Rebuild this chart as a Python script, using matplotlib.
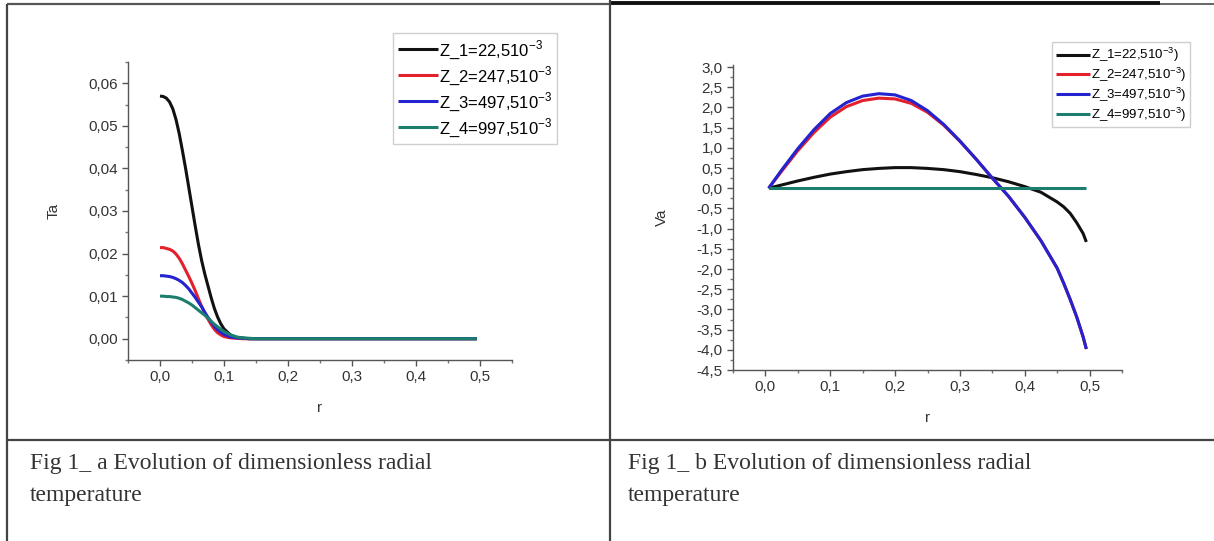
import matplotlib
matplotlib.use("Agg")
import matplotlib.pyplot as plt
from matplotlib.lines import Line2D
from matplotlib.ticker import MultipleLocator, FuncFormatter

# ---- data ----
r_ta = [0.000, 0.005, 0.010, 0.015, 0.020, 0.025, 0.030, 0.035, 0.040, 0.045,
        0.050, 0.055, 0.060, 0.065, 0.070, 0.075, 0.080, 0.085, 0.090, 0.095,
        0.100, 0.110, 0.120, 0.130, 0.140, 0.150, 0.200, 0.300, 0.400, 0.495]
ta_z1 = [0.0570, 0.0569, 0.0565, 0.0556, 0.0540, 0.0515, 0.0482, 0.0442, 0.0400, 0.0355,
         0.0310, 0.0265, 0.0222, 0.0184, 0.0152, 0.0124, 0.0096, 0.0071, 0.0051, 0.0035,
         0.0023, 0.0009, 0.0003, 0.0001, 0.0, 0.0, 0.0, 0.0, 0.0, 0.0]
ta_z2 = [0.0214, 0.0214, 0.0212, 0.0210, 0.0206, 0.0199, 0.0189, 0.0176, 0.0161, 0.0146,
         0.0130, 0.0113, 0.0094, 0.0076, 0.0060, 0.0046, 0.0033, 0.0022, 0.0014, 0.0009,
         0.0005, 0.0002, 0.0001, 0.0, 0.0, 0.0, 0.0, 0.0, 0.0, 0.0]
ta_z3 = [0.0148, 0.0148, 0.0147, 0.0146, 0.0144, 0.0141, 0.0137, 0.0132, 0.0125, 0.0117,
         0.0107, 0.0097, 0.0086, 0.0075, 0.0062, 0.0050, 0.0039, 0.0029, 0.0021, 0.0015,
         0.0010, 0.0004, 0.0002, 0.0001, 0.0, 0.0, 0.0, 0.0, 0.0, 0.0]
ta_z4 = [0.0100, 0.0100, 0.0099, 0.0099, 0.0098, 0.0097, 0.0095, 0.0092, 0.0088, 0.0084,
         0.0079, 0.0073, 0.0067, 0.0061, 0.0055, 0.0048, 0.0041, 0.0034, 0.0028, 0.0022,
         0.0017, 0.0009, 0.0004, 0.0002, 0.0001, 0.0, 0.0, 0.0, 0.0, 0.0]

r_va = [0.005, 0.025, 0.050, 0.075, 0.100, 0.125, 0.150, 0.175, 0.200, 0.225,
        0.250, 0.275, 0.300, 0.325, 0.350, 0.375, 0.400, 0.425, 0.450, 0.460,
        0.470, 0.480, 0.490, 0.495]
va_z1 = [0.00, 0.08, 0.18, 0.27, 0.35, 0.41, 0.46, 0.49, 0.51, 0.51,
         0.49, 0.46, 0.41, 0.34, 0.26, 0.16, 0.04, -0.10, -0.34, -0.46,
         -0.62, -0.85, -1.12, -1.33]
va_z2 = [0.00, 0.42, 0.93, 1.38, 1.76, 2.02, 2.17, 2.23, 2.21, 2.10,
         1.88, 1.56, 1.16, 0.72, 0.25, -0.20, -0.72, -1.30, -1.98, -2.35,
         -2.75, -3.18, -3.68, -3.98]
va_z3 = [0.00, 0.45, 0.98, 1.45, 1.85, 2.12, 2.28, 2.34, 2.31, 2.17,
         1.92, 1.58, 1.17, 0.72, 0.25, -0.20, -0.72, -1.30, -1.98, -2.35,
         -2.75, -3.18, -3.68, -3.98]
va_z4 = [0.0] * len(r_va)

labels_a = [r'Z_1=22,510$^{-3}$', r'Z_2=247,510$^{-3}$',
            r'Z_3=497,510$^{-3}$', r'Z_4=997,510$^{-3}$']
labels_b = [r'Z_1=22,510$^{-3}$)', r'Z_2=247,510$^{-3}$)',
            r'Z_3=497,510$^{-3}$)', r'Z_4=997,510$^{-3}$)']
caption_a = ["Fig 1_ a Evolution of dimensionless radial", "temperature"]
caption_b = ["Fig 1_ b Evolution of dimensionless radial", "temperature"]

colors = ['#111111', '#e3202c', '#2323d0', '#1c7f6e']

plt.rcParams['font.family'] = ['Liberation Sans', 'DejaVu Sans']
plt.rcParams['mathtext.fontset'] = 'custom'
plt.rcParams['mathtext.rm'] = 'Liberation Sans'

W, H = 1214, 541
fig = plt.figure(figsize=(W / 100, H / 100), dpi=100)


def fx(px):
    return px / W


def fy(py):
    return 1 - py / H


def comma_fmt(nd):
    return FuncFormatter(lambda v, p: f'{round(v, nd) + 0.0:.{nd}f}'.replace('.', ','))


def style_axes(ax):
    for s in ('top', 'right'):
        ax.spines[s].set_visible(False)
    for s in ('left', 'bottom'):
        ax.spines[s].set_color('#555555')
        ax.spines[s].set_linewidth(1.0)
    ax.tick_params(which='major', direction='out', length=4, width=1,
                   color='#555555', labelcolor='#333333', labelsize=11)
    ax.tick_params(which='minor', direction='out', length=2, width=1, color='#777777')


# ---- left panel ----
axa = fig.add_axes([fx(128), fy(360), fx(512 - 128), (360 - 62) / H])
for y, c, lab in zip([ta_z1, ta_z2, ta_z3, ta_z4], colors, labels_a):
    axa.plot(r_ta, y, color=c, lw=2.2, label=lab, solid_capstyle='butt')
axa.set_xlim(-0.05, 0.55)
axa.set_ylim(-0.005, 0.065)
axa.xaxis.set_major_locator(MultipleLocator(0.1))
axa.xaxis.set_minor_locator(MultipleLocator(0.05))
axa.yaxis.set_major_locator(MultipleLocator(0.01))
axa.yaxis.set_minor_locator(MultipleLocator(0.005))
axa.xaxis.set_major_formatter(comma_fmt(1))
axa.yaxis.set_major_formatter(comma_fmt(2))
style_axes(axa)
axa.set_xlabel('r', fontsize=11, color='#333333', labelpad=12)
axa.set_ylabel('Ta', fontsize=11, color='#333333', labelpad=20)
fig.legend(*axa.get_legend_handles_labels(), loc='upper left',
           bbox_to_anchor=(fx(393), fy(33)), fontsize=12, frameon=True,
           fancybox=False, edgecolor='#cfcfcf', framealpha=1,
           handlelength=2.4, handletextpad=0.05, labelspacing=0.18,
           borderpad=0.3, borderaxespad=0)

# ---- right panel ----
axb = fig.add_axes([fx(733), fy(370), fx(1122 - 733), (370 - 65) / H])
for y, c, lab in zip([va_z1, va_z2, va_z3, va_z4], colors, labels_b):
    axb.plot(r_va, y, color=c, lw=2.2, label=lab, solid_capstyle='butt')
axb.set_xlim(-0.05, 0.55)
axb.set_ylim(-4.5, 3.05)
axb.xaxis.set_major_locator(MultipleLocator(0.1))
axb.xaxis.set_minor_locator(MultipleLocator(0.05))
axb.yaxis.set_major_locator(MultipleLocator(0.5))
axb.yaxis.set_minor_locator(MultipleLocator(0.25))
axb.xaxis.set_major_formatter(comma_fmt(1))
axb.yaxis.set_major_formatter(comma_fmt(1))
style_axes(axb)
axb.set_xlabel('r', fontsize=11, color='#333333', labelpad=12)
axb.set_ylabel('Va', fontsize=11, color='#333333', labelpad=20)
fig.legend(*axb.get_legend_handles_labels(), loc='upper left',
           bbox_to_anchor=(fx(1052), fy(42)), fontsize=9.5, frameon=True,
           fancybox=False, edgecolor='#cfcfcf', framealpha=1,
           handlelength=2.6, handletextpad=0.05, labelspacing=0.12,
           borderpad=0.3, borderaxespad=0)

# ---- table frame ----
def hline(x0, x1, y, lw, c):
    fig.add_artist(Line2D([fx(x0), fx(x1)], [fy(y), fy(y)], lw=lw, color=c,
                          solid_capstyle='butt'))


def vline(x, y0, y1, lw, c):
    fig.add_artist(Line2D([fx(x), fx(x)], [fy(y0), fy(y1)], lw=lw, color=c,
                          solid_capstyle='butt'))


hline(7, 610, 4, 1.6, '#555555')
hline(610, 1160, 3, 2.8, '#111111')
hline(1160, 1214, 4, 1.4, '#666666')
vline(7, 4, 541, 1.6, '#444444')
vline(610, 0, 541, 1.6, '#444444')
hline(7, 1214, 440, 1.6, '#444444')

# ---- captions ----
serif = ['Liberation Serif', 'DejaVu Serif']
for x0, lines in ((30, caption_a), (628, caption_b)):
    for line, base in zip(lines, (469, 501)):
        fig.text(fx(x0), fy(base), line, family=serif, fontsize=17,
                 color='#333333', va='baseline', ha='left')

fig.savefig('out.png', dpi=100)
